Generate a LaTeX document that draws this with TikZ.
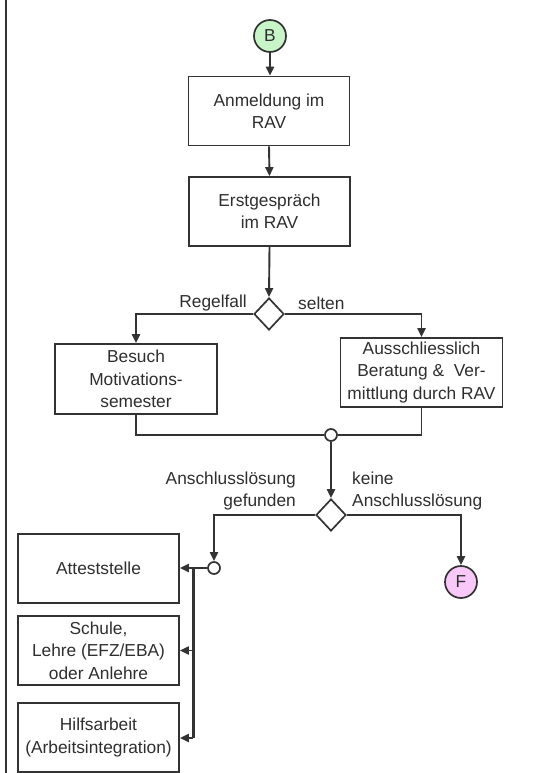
\documentclass[tikz,border=0pt]{standalone}
\usepackage{fontspec}
\setmainfont{Liberation Sans}
\usetikzlibrary{arrows.meta,shapes.geometric}
\definecolor{ink}{HTML}{333333}
\definecolor{txt}{HTML}{2E2E2E}
\definecolor{greenfill}{HTML}{C8F5C8}
\definecolor{pinkfill}{HTML}{F8C8F8}
\begin{document}
\begin{tikzpicture}[x=1bp,y=-1bp,
  font=\fontsize{17.4}{22.5}\selectfont,
  every node/.style={text=txt},
  stepbox/.style={draw=ink,line width=1.7bp,minimum width=161bp,minimum height=69bp,align=center,inner sep=0pt},
  decide/.style={draw=ink,line width=1.7bp,diamond,minimum width=30bp,minimum height=32bp,inner sep=0pt,fill=white},
  junct/.style={draw=ink,line width=1.7bp,circle,minimum size=12bp,inner sep=0pt,fill=white},
  term/.style={draw=ink,line width=1.7bp,circle,minimum size=32bp,inner sep=0pt},
  conn/.style={draw=ink,line width=1.9bp},
  arr/.style={conn,-{Triangle[length=9bp,width=8bp]}},
  lbl/.style={inner sep=0pt}
]
\useasboundingbox (0,0) rectangle (547,773);
\draw[ink,line width=1.6bp] (6,0) -- (6,773);

\node[term,fill=greenfill] (B) at (270,36) {B};
\node[stepbox] (anm) at (269,111) {Anmeldung im\\RAV};
\node[stepbox] (erst) at (269.5,211.5) {Erstgespräch\\im RAV};
\node[decide] (d1) at (269,314) {};
\node[stepbox,minimum width=162bp,minimum height=70bp] (bes) at (136,379) {Besuch\\Motivations-\\semester};
\node[stepbox,minimum width=162bp] (aus) at (421.5,372.5) {Ausschliesslich\\Beratung \&{} \ Ver-\\mittlung durch RAV};
\node[junct] (m1) at (331,435) {};
\node[decide] (d2) at (331,515) {};
\node[junct] (m2) at (214,568) {};
\node[term,fill=pinkfill] (F) at (461,582) {F};
\node[stepbox] (att) at (98.5,568.5) {Atteststelle};
\node[stepbox] (sch) at (98.5,650.5) {Schule,\\Lehre (EFZ/EBA)\\oder Anlehre};
\node[stepbox] (hil) at (98.5,737.5) {Hilfsarbeit\\(Arbeitsintegration)};

\node[lbl,anchor=east] (lr) at (247,303) {Regelfall};
\node[lbl,anchor=west] (ls) at (298,303) {selten};
\node[lbl,anchor=east,align=right] (lg) at (296,491) {Anschlusslösung\\gefunden};
\node[lbl,anchor=west,align=left] (lk) at (352,491) {keine\\Anschlusslösung};

\draw[arr] (B.south) -- (anm.north -| B.south);
\draw[arr] (anm.south) -- (erst.north);
\draw[arr] (erst.south) -- (d1.north);
\draw[arr] (d1.west) -| (bes.north);
\draw[arr] (d1.east) -| (aus.north);
\draw[conn] (bes.south) |- (m1.west);
\draw[conn] (aus.south) |- (m1.east);
\draw[arr] (m1.south) -- (d2.north);
\draw[arr] (d2.west) -| (m2.north);
\draw[arr] (d2.east) -| (F.north);

\coordinate (bt) at (193,568);
\coordinate (bb) at (193,738);
\draw[conn] (m2.west) -- (bt);
\draw[ink,line width=3bp] (bt) -- (bb);
\draw[arr] (bt) -- (att.east |- bt);
\draw[arr] (bt |- sch.east) -- (sch.east);
\draw[arr] (bb) -- (hil.east |- bb);
\end{tikzpicture}
\end{document}
